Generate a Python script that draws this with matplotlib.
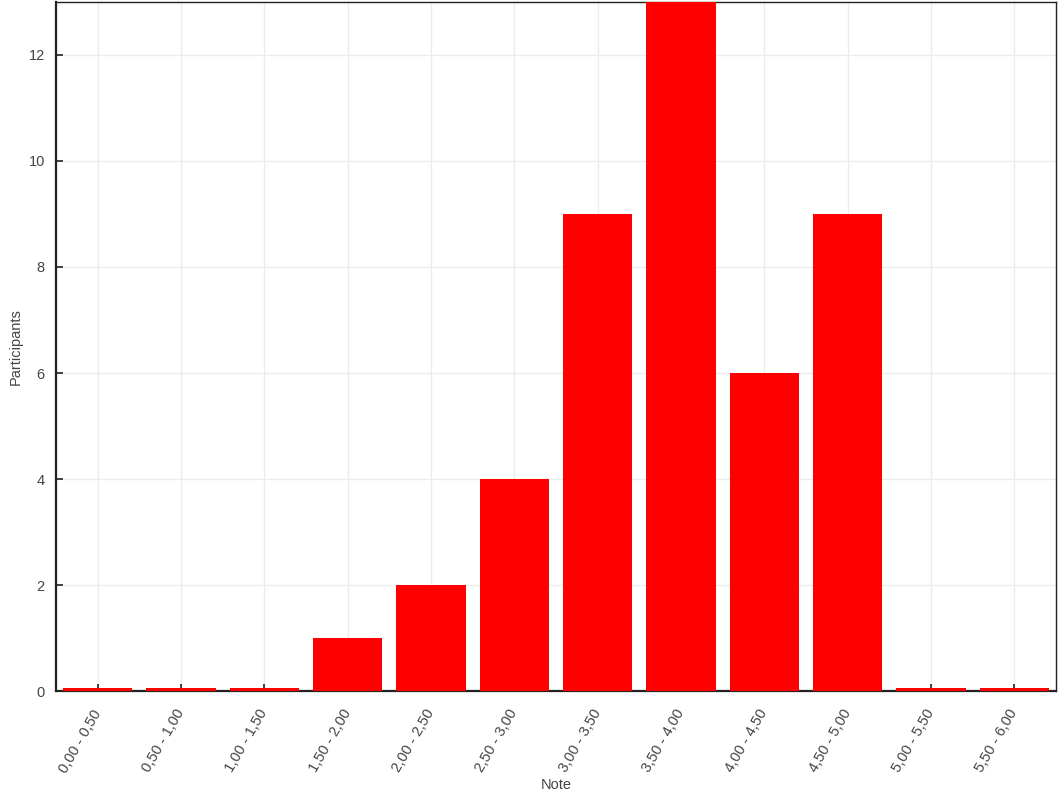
import numpy as np
import matplotlib
matplotlib.use('Agg')
import matplotlib.pyplot as plt

categories = ['0,00 - 0,50', '0,50 - 1,00', '1,00 - 1,50', '1,50 - 2,00',
              '2,00 - 2,50', '2,50 - 3,00', '3,00 - 3,50', '3,50 - 4,00',
              '4,00 - 4,50', '4,50 - 5,00', '5,00 - 5,50', '5,50 - 6,00']
participants = [0, 0, 0, 1, 2, 4, 9, 13, 6, 9, 0, 0]

plt.rcParams['font.family'] = ['Liberation Sans', 'DejaVu Sans']

fig = plt.figure(figsize=(10.6, 7.95), dpi=100)
ax = fig.add_axes([0.0528, 0.1308, 0.9434, 0.8667])

x = np.arange(len(categories))
# empty classes are shown as a thin red strip on the baseline
heights = [v if v > 0 else 0.05 for v in participants]
ax.bar(x, heights, width=0.83, color='#ff0000', zorder=3)

ax.set_xlim(-0.5, len(categories) - 0.5)
ax.set_ylim(0, 13)
ax.set_yticks(range(0, 13, 2))
ax.set_xticks(x)
ax.set_xticklabels(categories, rotation=60, ha='right', va='center',
                   rotation_mode='anchor')

ax.grid(True, color='#ececec', linewidth=1, zorder=0)
ax.tick_params(direction='in', length=5, width=1.2, colors='#222222',
               labelcolor='#444444', labelsize=10.5, pad=8)
ax.tick_params(axis='x', pad=14)
for side in ['left', 'bottom']:
    ax.spines[side].set_linewidth(1.6)
    ax.spines[side].set_color('#222222')
for side in ['top', 'right']:
    ax.spines[side].set_linewidth(1.0)
    ax.spines[side].set_color('#222222')

ax.set_xlabel('Note', fontsize=10.5, color='#444444', labelpad=2)
ax.set_ylabel('Participants', fontsize=10.5, color='#444444', labelpad=4)

fig.savefig('out.png', dpi=100)
